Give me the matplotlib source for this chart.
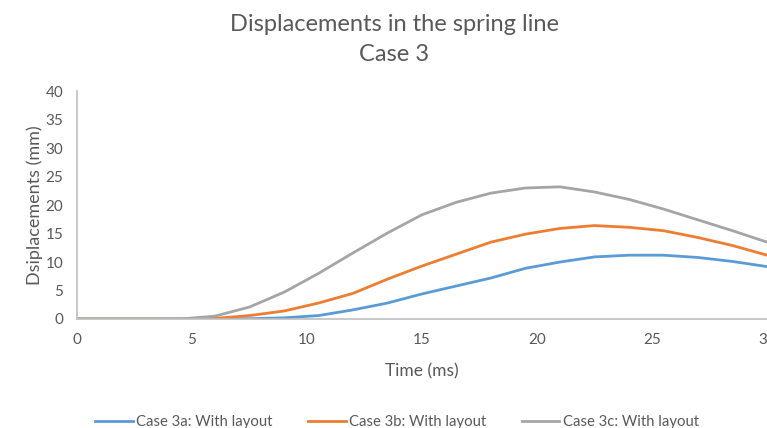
import numpy as np
import matplotlib
matplotlib.use("Agg")
from matplotlib import pyplot as plt

plt.rcParams['font.family'] = ['Lato', 'DejaVu Sans']

# time steps (ms)
t = [0, 1.5, 3, 4.5, 6, 7.5, 9, 10.5, 12, 13.5, 15, 16.5, 18, 19.5, 21, 22.5, 24, 25.5, 27, 28.5, 30]

# displacements (mm)
case_3a = [0, 0, 0, 0, 0, 0.05, 0.2, 0.6, 1.6, 2.8, 4.4, 5.8, 7.2, 8.9, 10.0, 10.9, 11.2, 11.2, 10.8, 10.1, 9.2]
case_3b = [0, 0, 0, 0, 0.1, 0.6, 1.4, 2.8, 4.5, 7.0, 9.3, 11.4, 13.5, 14.9, 15.9, 16.4, 16.1, 15.5, 14.3, 12.9, 11.2]
case_3c = [0, 0, 0, 0, 0.5, 2.1, 4.7, 8.0, 11.6, 15.1, 18.3, 20.5, 22.1, 23.0, 23.2, 22.3, 21.0, 19.3, 17.4, 15.5, 13.5]

labels = ["Case 3a: With layout", "Case 3b: With layout", "Case 3c: With layout"]
colors = ["#5B9BD5", "#ED7D31", "#A5A5A5"]

txt = "#595959"
axis_col = "#BFBFBF"

fig = plt.figure(figsize=(7.67, 4.28), dpi=100)
ax = fig.add_axes([0.1004, 0.2547, 0.8996, 0.5323])

for y, lab, c in zip([case_3a, case_3b, case_3c], labels, colors):
    ax.plot(t, y, color=c, lw=2, label=lab, solid_joinstyle='round')

ax.set_xlim(0, 30)
ax.set_ylim(0, 40)
ax.set_xticks(np.arange(0, 31, 5))
ax.set_yticks(np.arange(0, 41, 5))
ax.tick_params(length=0, labelsize=11, colors=txt)
ax.tick_params(axis='y', pad=10)
ax.tick_params(axis='x', pad=10)

for s in ['top', 'right']:
    ax.spines[s].set_visible(False)
for s in ['left', 'bottom']:
    ax.spines[s].set_color(axis_col)
    ax.spines[s].set_linewidth(1.2)

ax.set_xlabel("Time (ms)", fontsize=12.5, color=txt, labelpad=12)
ax.set_ylabel("Dsiplacements (mm)", fontsize=13, color=txt, labelpad=2)

fig.text(0.514, 0.943, "Displacements in the spring line", ha='center', va='center',
         fontsize=17, color=txt)
fig.text(0.514, 0.873, "Case 3", ha='center', va='center', fontsize=17, color=txt)

fig.legend(loc='center', bbox_to_anchor=(0.518, 0.014), ncol=3, frameon=False,
           fontsize=10.7, labelcolor=txt, handlelength=2.5, handletextpad=0.25,
           columnspacing=2.4)

fig.savefig("out.png", dpi=100)
